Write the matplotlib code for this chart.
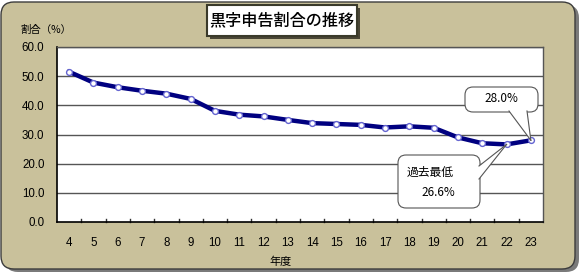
import matplotlib
matplotlib.use("Agg")
import matplotlib.pyplot as plt
from matplotlib.patches import FancyBboxPatch, Rectangle, Polygon
from matplotlib.lines import Line2D
from matplotlib.transforms import IdentityTransform

years = ["4", "5", "6", "7", "8", "9", "10", "11", "12", "13", "14", "15", "16", "17", "18", "19", "20", "21", "22", "23"]
ratio = [51.5, 47.8, 46.2, 45.0, 44.0, 42.2, 38.1, 36.8, 36.2, 35.0, 33.9, 33.6, 33.3, 32.4, 32.8, 32.3, 29.0, 27.0, 26.6, 28.0]
yticks = [0, 10, 20, 30, 40, 50, 60]
title = "黒字申告割合の推移"
ylabel = "割合（%）"
xlabel = "年度"
note_last = "28.0%"
note_min_1 = "過去最低"
note_min_2 = "26.6%"

num_font = ["Liberation Sans", "DejaVu Sans"]
jp = ["Noto Sans CJK JP", "DejaVu Sans"]

W, H = 580, 273
fig = plt.figure(figsize=(W / 100, H / 100), dpi=100)
fig.patch.set_facecolor("white")
PIX = IdentityTransform()  # display pixels (dpi 100 == savefig dpi)


def fx(px):
    return px / W


def fy(py):
    return 1 - py / H


def rbox(x0, y0, x1, y1, r, **kw):
    """rounded box given in image pixel coords (y downward)."""
    return FancyBboxPatch((x0, H - y1), x1 - x0, y1 - y0,
                          boxstyle=f"round,pad=0,rounding_size={r}",
                          transform=PIX, **kw)


# outer background with shadow
fig.patches.append(rbox(5, 5, 579, 272, 13, fc="#7a7a7a", ec="none", zorder=0))
fig.patches.append(rbox(1, 2, 575, 269, 13, fc="#C9C19B", ec="#3c3c3c", lw=1.0, zorder=1))

ax = fig.add_axes([fx(57), fy(222), 486 / W, 175 / H])
ax.set_zorder(2)
ax.set_facecolor("white")
x = list(range(len(years)))
ax.plot(x, ratio, color="#000080", lw=3.2, marker="o", ms=4.2,
        mfc="white", mec="#6464d0", mew=1.0, zorder=3, solid_joinstyle="round")
ax.set_xlim(-0.5, len(years) - 0.5)
ax.set_ylim(0, 60)
ax.set_yticks(yticks)
ax.set_yticklabels([f"{v:.1f}" for v in yticks], fontfamily=num_font, fontsize=8.3)
ax.set_xticks(x)
ax.set_xticklabels(years, fontfamily=num_font, fontsize=8.3)
ax.tick_params(axis="x", length=0, pad=11)
ax.tick_params(axis="y", length=0, pad=9)
for v in yticks[1:]:
    ax.axhline(v, color="#555555", lw=1.0, zorder=1)
for b in range(1, len(years)):
    ax.plot([b - 0.5, b - 0.5], [0, 1.1], color="#333333", lw=1.0, zorder=2, clip_on=False)
for s in ["left", "bottom"]:
    ax.spines[s].set_color("black")
    ax.spines[s].set_linewidth(1.2)
for s in ["right", "top"]:
    ax.spines[s].set_color("#555555")
    ax.spines[s].set_linewidth(1.0)

fig.text(fx(20), fy(30), ylabel, fontfamily=jp, fontsize=7.5, va="center", ha="left")
fig.text(fx(281), fy(262), xlabel, fontfamily=jp, fontsize=8, va="center", ha="center")

# title box with shadow
fig.patches.append(Rectangle((fx(210), fy(39)), 150 / W, 31 / H, transform=fig.transFigure,
                             fc="#4a4636", ec="none", zorder=3))
fig.patches.append(Rectangle((fx(207), fy(36)), 150 / W, 31 / H, transform=fig.transFigure,
                             fc="white", ec="#3a3a2a", lw=1.5, zorder=4))
fig.text(fx(282), fy(20.5), title, fontfamily=jp, fontsize=11.6, fontweight="medium",
         ha="center", va="center", zorder=5)


def callout(x0, y0, x1, y1, base_a, base_b, idx):
    """box in image pixels; pointer from two base points to data point idx."""
    fig.patches.append(rbox(x0, y0, x1, y1, 8, fc="white", ec="#555555", lw=0.8, zorder=6))
    tip_disp = ax.transData.transform((x[idx], ratio[idx]))
    tip = fig.transFigure.inverted().transform(tip_disp)
    a = (fx(base_a[0]), fy(base_a[1]))
    b = (fx(base_b[0]), fy(base_b[1]))
    fig.patches.append(Polygon([a, tuple(tip), b], closed=True, transform=fig.transFigure,
                               fc="white", ec="none", zorder=7))
    for p in (a, b):
        fig.lines.append(Line2D([p[0], tip[0]], [p[1], tip[1]], transform=fig.transFigure,
                                color="#555555", lw=0.8, zorder=8))


callout(465, 87, 538, 112, (509, 111), (527, 111), len(ratio) - 1)
fig.text(fx(501), fy(99), note_last, fontfamily=jp, fontsize=8.5, ha="center", va="center", zorder=9)

callout(398, 155, 480, 208, (479, 166), (479, 179), len(ratio) - 2)
fig.text(fx(430), fy(172), note_min_1, fontfamily=jp, fontsize=8.5, ha="center", va="center", zorder=9)
fig.text(fx(438), fy(192), note_min_2, fontfamily=jp, fontsize=8.5, ha="center", va="center", zorder=9)

fig.savefig("out.png", dpi=100, facecolor=fig.get_facecolor())
